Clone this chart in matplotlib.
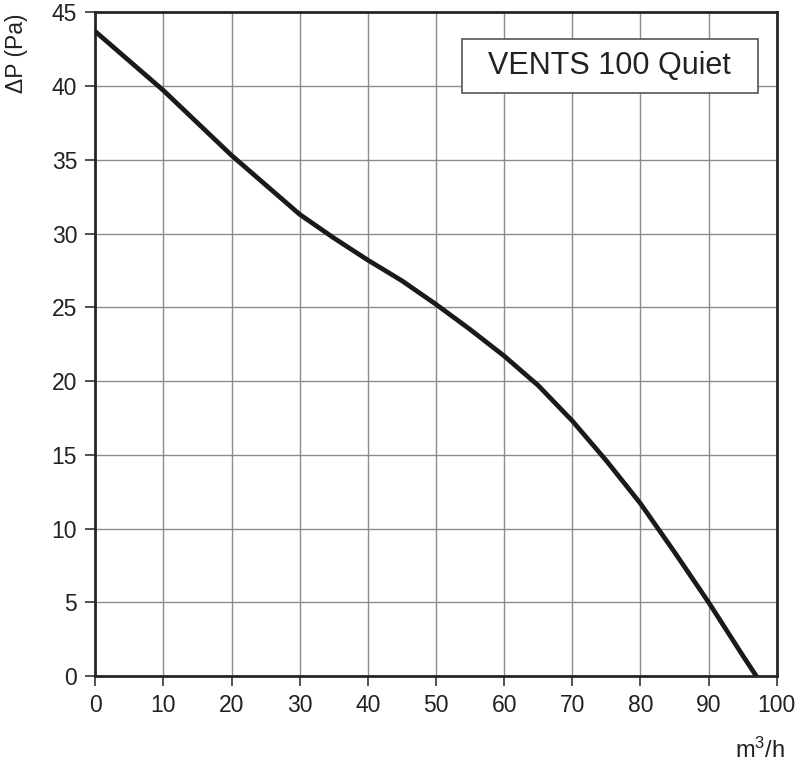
import numpy as np
import matplotlib
matplotlib.use('Agg')
import matplotlib.pyplot as plt
from matplotlib.patches import Rectangle

plt.rcParams['font.family'] = ['Liberation Sans', 'DejaVu Sans']
plt.rcParams['mathtext.fontset'] = 'custom'
plt.rcParams['mathtext.rm'] = 'Liberation Sans'
plt.rcParams['mathtext.it'] = 'Liberation Sans'

# fan curve
flow = [0, 5, 10, 15, 20, 25, 30, 35, 40, 45, 50, 55, 60, 65, 70, 75, 80, 85, 90, 95, 97]
pressure = [43.7, 41.7, 39.7, 37.5, 35.3, 33.3, 31.3, 29.7, 28.2, 26.8, 25.2, 23.5,
            21.7, 19.7, 17.3, 14.6, 11.7, 8.4, 5.0, 1.4, 0]
xticks = list(range(0, 101, 10))
yticks = list(range(0, 46, 5))
model = 'VENTS 100 Quiet'

fig = plt.figure(figsize=(8, 7.64), dpi=100)
ax = fig.add_axes([0.119, 0.115, 0.852, 0.869])

ax.plot(flow, pressure, color='#1a1a1a', lw=3.4, solid_joinstyle='round', zorder=3)

ax.set_xlim(0, 100)
ax.set_ylim(0, 45)
ax.set_xticks(xticks)
ax.set_yticks(yticks)
ax.tick_params(axis='both', direction='out', length=7, width=1.2, color='#333333',
               labelsize=16.5, labelcolor='#222222', pad=6)
ax.grid(True, color='#8c8c8c', lw=1.0)
ax.set_axisbelow(True)
for s in ax.spines.values():
    s.set_color('#262626')
    s.set_linewidth(2)

# model name box
ax.add_patch(Rectangle((53.8, 39.5), 43.4, 3.7, facecolor='white', edgecolor='#555555',
                       lw=1.2, zorder=4))
ax.text(75.5, 41.35, model, ha='center', va='center', fontsize=22, color='#222222', zorder=5)

fig.text(0.02, 0.93, 'ΔP (Pa)', rotation=90, ha='center', va='center', fontsize=16.5,
         color='#222222')
fig.text(0.95, 0.018, 'm$\\mathregular{^3}$/h', ha='center', va='center', fontsize=17,
         color='#222222')

fig.savefig('out.png', dpi=100)
